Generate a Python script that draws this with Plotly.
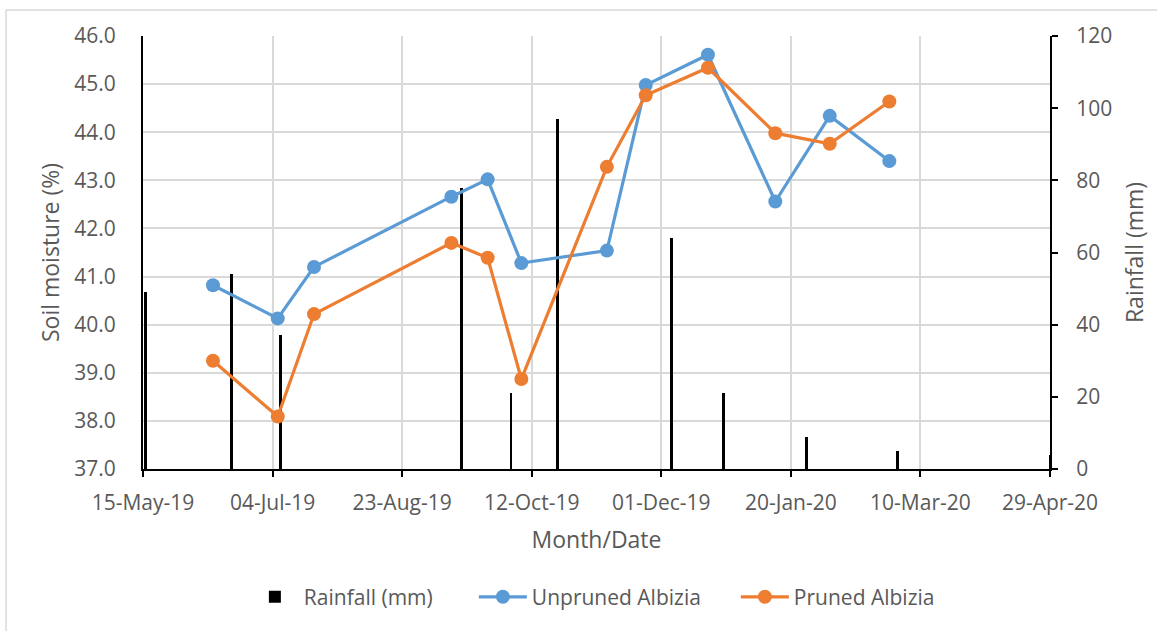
import plotly.graph_objects as go

# Soil moisture sampling dates and readings (%)
soil_dates = ["2019-06-11", "2019-07-06", "2019-07-20", "2019-09-11", "2019-09-25",
              "2019-10-08", "2019-11-10", "2019-11-25", "2019-12-19", "2020-01-14",
              "2020-02-04", "2020-02-27"]
unpruned = [40.82, 40.13, 41.20, 42.66, 43.02, 41.28, 41.54, 44.98, 45.61, 42.56, 44.34, 43.40]
pruned = [39.25, 38.09, 40.22, 41.70, 41.39, 38.87, 43.28, 44.77, 45.34, 43.98, 43.76, 44.64]

# Rainfall events (mm)
rain_dates = ["2019-05-16", "2019-06-18", "2019-07-07", "2019-09-15", "2019-10-04",
              "2019-10-22", "2019-12-05", "2019-12-25", "2020-01-26", "2020-03-01",
              "2020-04-29"]
rainfall = [49, 54, 37, 78, 21, 97, 64, 21, 9, 5, 4]

DAY_MS = 86400000
TEXT = "#595959"
FONT = "Open Sans"

fig = go.Figure()

# Rainfall bars on the base axis so the moisture lines sit above them
fig.add_trace(go.Bar(
    x=rain_dates, y=rainfall, name="Rainfall (mm)",
    marker=dict(color="black", line=dict(width=0)),
    width=[1.1 * DAY_MS] * len(rain_dates),
    yaxis="y", xaxis="x",
    legendwidth=165,
))
fig.add_trace(go.Scatter(
    x=soil_dates, y=unpruned, name="Unpruned Albizia", mode="lines+markers",
    line=dict(color="#5B9BD5", width=3.2),
    marker=dict(color="#5B9BD5", size=14),
    yaxis="y2",
    legendwidth=199,
))
fig.add_trace(go.Scatter(
    x=soil_dates, y=pruned, name="Pruned Albizia", mode="lines+markers",
    line=dict(color="#ED7D31", width=3.2),
    marker=dict(color="#ED7D31", size=14),
    yaxis="y2",
))

fig.update_layout(
    width=1157, height=631,
    margin=dict(l=143, r=107, t=36, b=162),
    paper_bgcolor="white", plot_bgcolor="white",
    font=dict(family=FONT, color=TEXT, size=21),
    bargap=0,
    xaxis=dict(
        type="date",
        range=["2019-05-15", "2020-04-29"],
        tick0="2019-05-15", dtick=50 * DAY_MS,
        tickformat="%d-%b-%y",
        showgrid=True, gridcolor="#D9D9D9", gridwidth=1.5,
        showline=True, linecolor="black", linewidth=2,
        ticks="outside", ticklen=6, tickwidth=2, tickcolor="black",
        ticklabelstandoff=8,
        tickfont=dict(size=21, color=TEXT),
        title=dict(text="Month/Date", font=dict(size=23, color=TEXT), standoff=17),
    ),
    yaxis=dict(
        side="right",
        range=[0, 120], dtick=20,
        showgrid=False, zeroline=False,
        showline=True, linecolor="black", linewidth=2,
        ticks="outside", ticklen=6, tickwidth=2, tickcolor="black",
        ticklabelstandoff=14,
        tickfont=dict(size=21, color=TEXT),
        title=dict(text="Rainfall (mm)", font=dict(size=23, color=TEXT), standoff=16),
    ),
    yaxis2=dict(
        side="left", overlaying="y",
        range=[37, 46], dtick=1, tickformat=".1f",
        showgrid=True, gridcolor="#D9D9D9", gridwidth=1.5,
        zeroline=False,
        showline=True, linecolor="black", linewidth=2,
        ticks="",
        ticklabelstandoff=21,
        tickfont=dict(size=21, color=TEXT),
        title=dict(text="Soil moisture (%)", font=dict(size=23, color=TEXT), standoff=8),
    ),
    legend=dict(
        orientation="h", x=0.496, xanchor="center", y=-0.296, yanchor="middle",
        font=dict(size=21, color=TEXT), itemwidth=48,
        traceorder="normal",
    ),
    shapes=[dict(
        type="rect", xref="paper", yref="paper",
        x0=-0.151, x1=1.121, y0=-0.395, y1=1.060,
        line=dict(color="#D9D9D9", width=1.5), fillcolor="rgba(0,0,0,0)",
        layer="below",
    )],
)

fig.write_html("out.html")
